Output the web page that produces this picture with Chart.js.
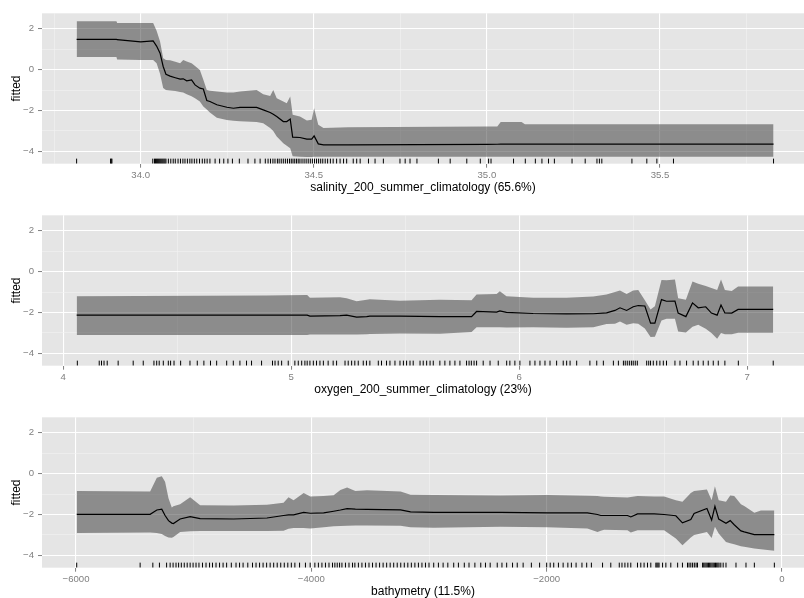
<!DOCTYPE html>
<html>
<head>
<meta charset="utf-8">
<script src="https://cdn.jsdelivr.net/npm/chart.js@4.4.1/dist/chart.umd.min.js"></script>
<style>
  html, body { margin: 0; padding: 0; background: #fff; overflow: hidden; }
  .panel { position: absolute; left: 0; width: 804px; height: 202px; }
</style>
</head>
<body>
<div class="panel" style="top:0"><canvas id="salinity" width="804" height="202"></canvas></div>
<div class="panel" style="top:202px"><canvas id="oxygen" width="804" height="202"></canvas></div>
<div class="panel" style="top:404px"><canvas id="bathy" width="804" height="202"></canvas></div>
<script>
// salinity_200_summer_climatology
const salX = [33.815, 33.93, 33.932, 34.0, 34.036, 34.046, 34.056, 34.065, 34.073, 34.085, 34.1, 34.114, 34.123, 34.133, 34.147, 34.157, 34.171, 34.181, 34.191, 34.2, 34.22, 34.249, 34.268, 34.287, 34.335, 34.354, 34.374, 34.383, 34.393, 34.412, 34.422, 34.432, 34.439, 34.46, 34.48, 34.494, 34.501, 34.513, 34.528, 34.6, 35.0, 35.03, 35.04, 35.1, 35.11, 35.828];
const salFit = [1.48, 1.48, 1.46, 1.35, 1.40, 1.15, 0.80, 0.15, -0.23, -0.32, -0.40, -0.47, -0.45, -0.55, -0.50, -0.75, -0.91, -0.95, -1.51, -1.56, -1.72, -1.84, -1.89, -1.85, -1.85, -1.97, -2.10, -2.18, -2.29, -2.54, -2.54, -2.42, -3.30, -3.32, -3.40, -3.40, -3.24, -3.63, -3.68, -3.68, -3.66, -3.65, -3.64, -3.64, -3.64, -3.64];
const salUpper = [2.36, 2.36, 2.27, 2.27, 2.27, 1.9, 1.37, 0.55, 0.47, 0.45, 0.38, 0.31, 0.47, 0.40, 0.31, 0.18, -0.02, -0.5, -1.0, -1.03, -1.07, -1.12, -1.12, -1.07, -1.0, -1.2, -1.29, -1.0, -1.4, -1.56, -1.64, -1.32, -2.21, -2.29, -2.49, -2.45, -1.89, -2.7, -2.86, -2.82, -2.78, -2.78, -2.56, -2.56, -2.67, -2.67];
const salLower = [0.61, 0.61, 0.49, 0.47, 0.47, 0.31, -0.2, -0.9, -1.0, -1.02, -1.05, -1.1, -1.12, -1.2, -1.3, -1.4, -1.56, -1.8, -1.95, -2.1, -2.35, -2.47, -2.50, -2.52, -2.56, -2.62, -2.86, -3.0, -3.27, -3.6, -3.72, -3.84, -4.24, -4.26, -4.27, -4.27, -4.26, -4.26, -4.26, -4.26, -4.26, -4.26, -4.26, -4.26, -4.26, -4.26];
const salRug = [33.815, 33.913, 33.915, 33.917, 34.035, 34.04, 34.043, 34.046, 34.049, 34.052, 34.055, 34.058, 34.061, 34.064, 34.067, 34.07, 34.073, 34.08, 34.087, 34.094, 34.1, 34.108, 34.115, 34.122, 34.128, 34.135, 34.142, 34.148, 34.155, 34.162, 34.17, 34.178, 34.185, 34.192, 34.2, 34.215, 34.228, 34.24, 34.252, 34.265, 34.285, 34.31, 34.33, 34.345, 34.36, 34.368, 34.375, 34.382, 34.388, 34.395, 34.4, 34.406, 34.412, 34.418, 34.424, 34.43, 34.435, 34.44, 34.445, 34.45, 34.455, 34.46, 34.466, 34.472, 34.478, 34.484, 34.49, 34.496, 34.502, 34.508, 34.514, 34.52, 34.526, 34.533, 34.54, 34.548, 34.556, 34.566, 34.576, 34.586, 34.595, 34.614, 34.624, 34.634, 34.658, 34.677, 34.701, 34.749, 34.764, 34.778, 34.798, 34.86, 34.894, 34.942, 34.981, 35.005, 35.012, 35.077, 35.111, 35.14, 35.159, 35.178, 35.195, 35.246, 35.284, 35.318, 35.325, 35.332, 35.419, 35.462, 35.491, 35.539, 35.828];
const salMajor = [34.0, 34.5, 35.0, 35.5];
const salMinor = [33.75, 34.25, 34.75, 35.25, 35.75];

// oxygen_200_summer_climatology
const oxyX = [4.059, 4.89, 5.07, 5.082, 5.214, 5.243, 5.287, 5.331, 5.345, 5.477, 5.652, 5.791, 5.813, 5.901, 5.915, 5.944, 6.061, 6.208, 6.325, 6.383, 6.42, 6.442, 6.471, 6.5, 6.522, 6.551, 6.576, 6.595, 6.624, 6.646, 6.683, 6.697, 6.731, 6.76, 6.785, 6.818, 6.843, 6.868, 6.885, 6.902, 6.932, 6.96, 7.114];
const oxyFit = [-2.13, -2.13, -2.13, -2.18, -2.15, -2.13, -2.23, -2.2, -2.18, -2.18, -2.2, -2.2, -1.95, -1.98, -1.92, -1.99, -2.05, -2.07, -2.06, -2.02, -1.9, -1.77, -1.9, -1.72, -1.66, -1.68, -2.52, -2.52, -1.37, -1.45, -1.44, -2.03, -2.2, -1.53, -1.77, -1.72, -2.03, -2.13, -1.63, -2.02, -2.03, -1.85, -1.85];
const oxyUpper = [-1.2, -1.17, -1.15, -1.28, -1.25, -1.3, -1.45, -1.38, -1.35, -1.42, -1.38, -1.4, -1.12, -1.1, -0.96, -1.2, -1.28, -1.28, -1.22, -1.12, -1.0, -0.93, -1.1, -0.92, -0.9, -1.4, -1.85, -1.7, -0.41, -0.42, -0.39, -1.3, -1.38, -0.49, -0.6, -0.7, -0.8, -0.9, -0.39, -0.9, -0.95, -0.73, -0.73];
const oxyLower = [-3.1, -3.1, -3.1, -3.08, -3.07, -3.07, -3.08, -3.06, -3.05, -3.03, -3.04, -2.95, -2.72, -2.72, -2.72, -2.73, -2.72, -2.74, -2.72, -2.56, -2.55, -2.44, -2.6, -2.52, -2.55, -2.78, -3.2, -3.18, -2.39, -2.3, -2.3, -2.93, -2.98, -2.7, -2.6, -2.8, -3.0, -3.28, -3.0, -3.06, -3.06, -2.99, -2.99];
const oxyRug = [4.062, 4.158, 4.168, 4.179, 4.193, 4.241, 4.307, 4.351, 4.398, 4.41, 4.421, 4.439, 4.461, 4.471, 4.486, 4.515, 4.556, 4.588, 4.617, 4.646, 4.673, 4.717, 4.746, 4.775, 4.804, 4.826, 4.87, 4.918, 4.929, 4.943, 4.958, 4.987, 5.016, 5.031, 5.046, 5.06, 5.07, 5.082, 5.097, 5.111, 5.126, 5.141, 5.162, 5.184, 5.199, 5.236, 5.25, 5.265, 5.279, 5.294, 5.316, 5.33, 5.345, 5.382, 5.396, 5.418, 5.433, 5.455, 5.477, 5.492, 5.506, 5.521, 5.535, 5.565, 5.579, 5.594, 5.609, 5.623, 5.652, 5.674, 5.696, 5.718, 5.74, 5.769, 5.78, 5.79, 5.802, 5.813, 5.842, 5.872, 5.908, 5.945, 5.959, 5.981, 6.003, 6.047, 6.069, 6.091, 6.113, 6.135, 6.164, 6.193, 6.208, 6.223, 6.252, 6.31, 6.34, 6.369, 6.413, 6.435, 6.457, 6.465, 6.474, 6.483, 6.492, 6.5, 6.509, 6.518, 6.559, 6.568, 6.576, 6.588, 6.603, 6.617, 6.632, 6.646, 6.683, 6.705, 6.734, 6.763, 6.785, 6.807, 6.829, 6.851, 6.873, 6.902, 6.961, 7.114];
const oxyMajor = [4, 5, 6, 7];
const oxyMinor = [4.5, 5.5, 6.5];

// bathymetry
const bathyX = [-5994, -5370, -5313, -5271, -5243, -5214, -5186, -5172, -5115, -5030, -4945, -4661, -4377, -4236, -4194, -4151, -4065, -4009, -3895, -3810, -3753, -3696, -3626, -3526, -3242, -3157, -2959, -2391, -1994, -1654, -1568, -1540, -1512, -1313, -1285, -1228, -1087, -1002, -902, -846, -775, -747, -638, -598, -570, -538, -476, -440, -406, -349, -321, -235, -179, -65];
const bathyFit = [-1.99, -1.99, -1.78, -1.74, -2.05, -2.3, -2.42, -2.44, -2.22, -2.1, -2.2, -2.22, -2.17, -2.05, -2.02, -2.02, -1.9, -1.94, -1.92, -1.84, -1.78, -1.71, -1.74, -1.75, -1.77, -1.87, -1.9, -1.9, -1.92, -1.92, -2.0, -2.05, -2.05, -2.05, -2.12, -1.97, -1.97, -2.0, -2.06, -2.41, -2.25, -1.95, -1.71, -2.27, -1.6, -2.22, -2.43, -2.3, -2.5, -2.8, -2.85, -2.98, -2.98, -2.98];
const bathyUpper = [-0.85, -0.88, -0.2, -0.13, -0.4, -1.2, -1.66, -1.6, -1.5, -1.16, -1.55, -1.56, -1.52, -1.43, -1.16, -1.3, -0.95, -1.12, -1.1, -1.06, -0.8, -0.68, -0.85, -0.82, -0.88, -1.03, -1.05, -1.07, -1.05, -1.08, -1.1, -1.12, -1.13, -1.17, -1.15, -1.1, -1.12, -1.12, -1.3, -1.38, -0.95, -0.85, -0.78, -1.3, -0.62, -1.3, -1.38, -1.07, -1.1, -1.5, -1.59, -1.92, -1.8, -1.8];
const bathyLower = [-2.9, -2.88, -2.9, -2.95, -3.05, -3.12, -3.14, -3.1, -2.85, -2.82, -2.81, -2.81, -2.81, -2.8, -2.7, -2.66, -2.66, -2.68, -2.62, -2.57, -2.56, -2.55, -2.54, -2.54, -2.55, -2.62, -2.65, -2.6, -2.62, -2.68, -2.85, -2.8, -2.75, -2.77, -2.88, -2.77, -2.77, -2.77, -3.17, -3.5, -3.12, -3.0, -2.85, -3.15, -2.6, -2.93, -3.34, -3.4, -3.45, -3.55, -3.58, -3.66, -3.7, -3.77];
const bathyRug = [-5994, -5455, -5347, -5291, -5230, -5200, -5175, -5150, -5128, -5105, -5080, -5055, -5030, -5005, -4980, -4955, -4925, -4895, -4865, -4840, -4810, -4780, -4750, -4720, -4680, -4640, -4610, -4580, -4540, -4500, -4470, -4440, -4410, -4380, -4350, -4320, -4290, -4260, -4230, -4200, -4170, -4140, -4100, -4050, -4010, -3970, -3940, -3910, -3880, -3850, -3820, -3800, -3780, -3760, -3740, -3710, -3680, -3650, -3630, -3600, -3570, -3540, -3510, -3480, -3450, -3420, -3390, -3360, -3330, -3300, -3270, -3240, -3210, -3180, -3150, -3120, -3090, -3060, -3030, -3000, -2960, -2920, -2880, -2840, -2790, -2750, -2700, -2660, -2610, -2560, -2520, -2480, -2420, -2380, -2340, -2290, -2250, -2200, -2130, -2060, -2000, -1970, -1940, -1900, -1860, -1820, -1790, -1750, -1700, -1660, -1620, -1525, -1455, -1383, -1360, -1335, -1310, -1285, -1228, -1200, -1172, -1143, -1115, -1072, -1063, -1054, -1045, -1015, -987, -945, -887, -846, -803, -790, -775, -760, -745, -730, -718, -675, -665, -655, -645, -635, -625, -615, -605, -595, -585, -575, -565, -555, -545, -535, -520, -500, -476, -391, -306, -235, -65];
const bathyMajor = [-6000, -4000, -2000, 0];
const bathyMinor = [-5000, -3000, -1000];

const yMajor = [-4, -2, 0, 2];
const yMinor = [-3, -1, 1];
const yMin = -4.6, yMax = 2.75;
const rugY = -4.475;

const grey = '#7f7f7f';
const fam = '"Liberation Sans", Arial, Helvetica, sans-serif';
const MINUS = '\u2212';
const signed = v => (v < 0 ? MINUS : '') + Math.abs(v);

const panelBg = {
  id: 'panelBg',
  beforeDraw(chart) {
    const { ctx, chartArea: a } = chart;
    ctx.save();
    ctx.fillStyle = '#e5e5e5';
    ctx.fillRect(a.left, a.top, a.right - a.left, a.bottom - a.top);
    ctx.restore();
  }
};

function tickList(major, minor) {
  return major.concat(minor).sort((a, b) => a - b).map(v => ({ value: v }));
}

function axisStyle(major) {
  const isMajor = c => c.tick && major.includes(c.tick.value);
  return {
    grid: {
      color: c => isMajor(c) ? '#ffffff' : '#f2f2f2',
      lineWidth: c => isMajor(c) ? 1.1 : 0.6,
      tickColor: c => isMajor(c) ? grey : 'rgba(0,0,0,0)',
      tickLength: 4,
      tickWidth: 1
    },
    border: { display: false }
  };
}

function pts(xs, ys) { return xs.map((x, i) => ({ x: x, y: ys[i] })); }

function noPad(s) { s.paddingLeft = 0; s.paddingRight = 0; s.paddingTop = 0; s.paddingBottom = 0; }

function makePanel(id, p) {
  const ctx = document.getElementById(id).getContext('2d');
  return new Chart(ctx, {
    type: 'line',
    data: {
      datasets: [
        { data: pts(p.xs, p.upper), borderColor: 'rgba(0,0,0,0)', borderWidth: 0, pointRadius: 0,
          fill: '+1', backgroundColor: 'rgba(51,51,51,0.5)', order: 2 },
        { data: pts(p.xs, p.lower), borderColor: 'rgba(0,0,0,0)', borderWidth: 0, pointRadius: 0,
          fill: false, order: 3 },
        { data: pts(p.xs, p.fit), borderColor: '#000', borderWidth: 1.2, pointRadius: 0,
          fill: false, order: 1 },
        { type: 'scatter', data: p.rug.map(x => ({ x: x, y: rugY })), pointStyle: 'line', rotation: 90,
          radius: 2.5, borderColor: '#000', borderWidth: 1, order: 0 }
      ]
    },
    options: {
      responsive: false,
      animation: false,
      devicePixelRatio: 1,
      layout: { autoPadding: false, padding: { top: 13.3, left: 0, right: 0, bottom: 0 } },
      plugins: { legend: { display: false }, tooltip: { enabled: false } },
      elements: { line: { tension: 0 } },
      scales: {
        x: Object.assign({
          type: 'linear',
          min: p.xmin, max: p.xmax,
          afterBuildTicks: s => { s.ticks = tickList(p.major, p.minor); },
          afterFit: s => { s.height = 38.3; noPad(s); },
          ticks: {
            autoSkip: false, maxRotation: 0, padding: 2,
            color: grey, font: { family: fam, size: 9.6 },
            callback: v => p.major.includes(v) ? p.label(v) : ''
          },
          title: {
            display: true, text: p.title, color: '#000',
            font: { family: fam, size: 12 }, padding: { top: 0, bottom: 7.3 }
          }
        }, axisStyle(p.major)),
        y: Object.assign({
          type: 'linear',
          min: yMin, max: yMax,
          afterBuildTicks: s => { s.ticks = tickList(yMajor, yMinor); },
          afterFit: s => { s.width = 42; noPad(s); },
          ticks: {
            autoSkip: false, padding: 4,
            color: grey, font: { family: fam, size: 9.6 },
            callback: v => yMajor.includes(v) ? signed(v) : ''
          },
          title: {
            display: true, text: 'fitted', color: '#000',
            font: { family: fam, size: 12 }, padding: { top: 9.5, bottom: 0 }
          }
        }, axisStyle(yMajor))
      }
    },
    plugins: [panelBg]
  });
}

makePanel('salinity', {
  xs: salX, fit: salFit, upper: salUpper, lower: salLower, rug: salRug,
  xmin: 33.715, xmax: 35.916, major: salMajor, minor: salMinor,
  label: v => v.toFixed(1), title: 'salinity_200_summer_climatology (65.6%)'
});
makePanel('oxygen', {
  xs: oxyX, fit: oxyFit, upper: oxyUpper, lower: oxyLower, rug: oxyRug,
  xmin: 3.907, xmax: 7.249, major: oxyMajor, minor: oxyMinor,
  label: v => String(v), title: 'oxygen_200_summer_climatology (23%)'
});
makePanel('bathy', {
  xs: bathyX, fit: bathyFit, upper: bathyUpper, lower: bathyLower, rug: bathyRug,
  xmin: -6289, xmax: 187, major: bathyMajor, minor: bathyMinor,
  label: v => signed(v), title: 'bathymetry (11.5%)'
});
</script>
</body>
</html>
